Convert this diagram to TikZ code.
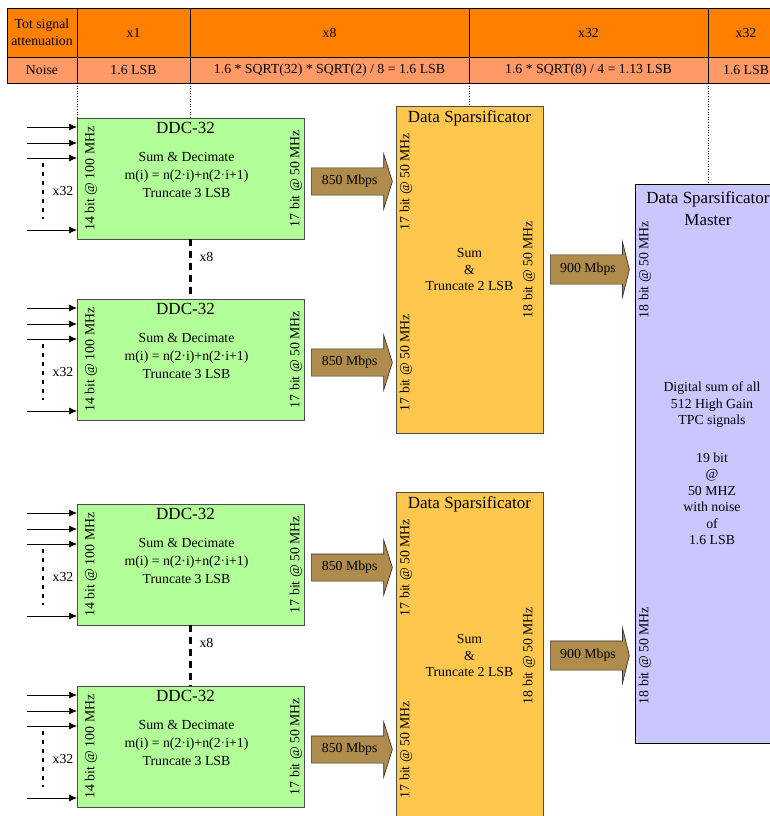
\documentclass[tikz,border=0pt]{standalone}
\usepackage{fontspec}
\setmainfont{Liberation Serif}
\usepackage{tikz}
\usetikzlibrary{arrows.meta,positioning,shapes.arrows}
\definecolor{hdrorange}{RGB}{255,128,0}
\definecolor{noisesalmon}{RGB}{255,153,102}
\definecolor{ddcgreen}{RGB}{178,255,153}
\definecolor{sparsyellow}{RGB}{255,199,77}
\definecolor{masterlilac}{RGB}{202,198,255}
\definecolor{linkbrown}{RGB}{175,140,76}

\begin{document}
\begin{tikzpicture}[
        x=1pt, y=-1pt,
        font=\fontsize{13.8}{16.5}\selectfont,
        hdr/.style={rectangle, draw, fill=hdrorange, outer sep=0pt, inner sep=1pt,
                    minimum height=49pt, align=center, anchor=north west},
        noise/.style={rectangle, draw, fill=noisesalmon, outer sep=0pt, inner sep=1pt,
                      minimum height=26pt, align=center},
        ddc/.style={rectangle, draw=black!70, line width=0.8pt, fill=ddcgreen, outer sep=0pt,
                    minimum width=227pt, minimum height=121pt, anchor=north west},
        spars/.style={rectangle, draw=black!70, line width=0.8pt, fill=sparsyellow, outer sep=0pt,
                      minimum width=147pt, minimum height=327pt, anchor=north west},
        dsmbox/.style={rectangle, draw, line width=0.8pt, fill=masterlilac, outer sep=0pt,
                       minimum width=146pt, minimum height=559pt, anchor=north west},
        ttl/.style={font=\fontsize{17}{22}\selectfont, align=center, inner sep=0pt},
        body/.style={align=center, inner sep=0pt},
        vlab/.style={rotate=90, inner sep=0pt},
        bigarr/.style={single arrow, draw=black!80, line width=0.7pt, fill=linkbrown,
                       single arrow head indent=0pt, inner xsep=3pt, anchor=tail},
        inarr/.style={-{Latex[length=8pt, width=7pt]}, line width=0.7pt},
        vdots/.style={dash pattern=on 4pt off 5pt, line width=1.8pt},
        multdash/.style={dash pattern=on 7pt off 5pt, line width=3.5pt},
        guide/.style={dotted, line width=0.6pt}
    ]
        \useasboundingbox (0,0) rectangle (770,816);
        \clip (0,0) rectangle (770,816);

        % attenuation / noise table
        \node[hdr, minimum width=70pt] (att) at (7,8) {Tot signal\\attenuation};
        \node[hdr, minimum width=113pt, right=0pt of att] (g1) {x1};
        \node[hdr, minimum width=279pt, right=0pt of g1] (g2) {x8};
        \node[hdr, minimum width=239pt, right=0pt of g2] (g3) {x32};
        \node[hdr, minimum width=76pt, right=0pt of g3] (g4) {x32};
        \node[noise, minimum width=70pt, below=0pt of att] (nse) {Noise};
        \node[noise, minimum width=113pt, right=0pt of nse] (n1) {1.6 LSB};
        \node[noise, minimum width=279pt, right=0pt of n1] (n2) {1.6 * SQRT(32) * SQRT(2) / 8 = 1.6 LSB};
        \node[noise, minimum width=239pt, right=0pt of n2] (n3) {1.6 * SQRT(8) / 4 = 1.13 LSB};
        \node[noise, minimum width=76pt, right=0pt of n3] (n4) {1.6 LSB};

        % DDC-32 blocks with their inputs and outputs
        \foreach \i/\yy in {1/118, 2/299, 3/504, 4/686}{
            \node[ddc] (ddc\i) at (77,\yy) {};
            \node[ttl] (ddct\i) at ([xshift=-5pt, yshift=-10pt]ddc\i.north) {DDC-32};
            \node[body, font=\fontsize{13.8}{18}\selectfont] (ddcb\i) at ([xshift=-4pt, yshift=-57pt]ddc\i.north)
                {Sum \& Decimate\\m(i) = n(2·i)+n(2·i+1)\\Truncate 3 LSB};
            \node[vlab] (ddcin\i) at ([xshift=14pt]ddc\i.west) {14 bit @ 100 MHz};
            \node[vlab] (ddcout\i) at ([xshift=-8pt]ddc\i.east) {17 bit @ 50 MHz};
            \foreach \o in {9,25,40,112}
                \draw[inarr] ([xshift=-50pt, yshift=-\o pt]ddc\i.north west) -- ([yshift=-\o pt]ddc\i.north west);
            \draw[vdots] ([xshift=-34pt, yshift=-45pt]ddc\i.north west) -- ([xshift=-34pt, yshift=-101pt]ddc\i.north west);
            \node (mult\i) at ([xshift=-14pt, yshift=-73pt]ddc\i.north west) {x32};
            \node[bigarr, minimum height=81pt, inner ysep=7pt, single arrow head extend=14pt,
                  single arrow tip angle=145] (rate\i) at ([xshift=7pt, yshift=-3pt]ddc\i.east) {850 Mbps};
        }
        \draw[multdash] (ddc1.south) -- node[right, pos=0.3, xshift=4pt] (rep1) {x8} (ddc2.north);
        \draw[multdash] (ddc3.south) -- node[right, pos=0.3, xshift=4pt] (rep2) {x8} (ddc4.north);

        % data sparsificators
        \node[spars] (sp1) at (396,106) {};
        \node[spars] (sp2) at (396,492) {};
        \foreach \s/\a/\b in {1/1/2, 2/3/4}{
            \node[ttl] (spt\s) at ([yshift=-12pt]sp\s.north) {Data Sparsificator};
            \node[body] (spb\s) at (sp\s.center) {Sum\\\&\\Truncate 2 LSB};
            \node[vlab] (spina\s) at ([xshift=10pt]sp\s.west |- rate\a) {17 bit @ 50 MHz};
            \node[vlab] (spinb\s) at ([xshift=10pt]sp\s.west |- rate\b) {17 bit @ 50 MHz};
            \node[vlab] (spout\s) at ([xshift=-14pt]sp\s.east) {18 bit @ 50 MHz};
            \node[bigarr, minimum height=79pt, inner ysep=8pt, single arrow head extend=13pt,
                  single arrow tip angle=152] (link\s) at ([xshift=7pt]sp\s.east) {900 Mbps};
        }

        % master
        \node[dsmbox] (dsm) at (635,184) {};
        \node[ttl] (dsmt) at ([yshift=-25pt]dsm.north) {Data Sparsificator\\Master};
        \node[vlab] (dsmin1) at ([xshift=10pt]dsm.west |- link1) {18 bit @ 50 MHz};
        \node[vlab] (dsmin2) at ([xshift=10pt]dsm.west |- link2) {18 bit @ 50 MHz};
        \node[body] (dsmb) at ([xshift=4pt]dsm.center)
            {Digital sum of all\\512 High Gain\\TPC signals\\[21pt]19 bit\\@\\50 MHZ\\with noise\\of\\1.6 LSB};

        % table guides
        \draw[guide] (nse.south east) -- (ddc1.north west);
        \draw[guide] (n1.south east) -- (n1.south east |- ddc1.north);
        \draw[guide] (n2.south east) -- (n2.south east |- sp1.north);
        \draw[guide] (n3.south east) -- (n3.south east |- dsm.north);
    \end{tikzpicture}
\end{document}
